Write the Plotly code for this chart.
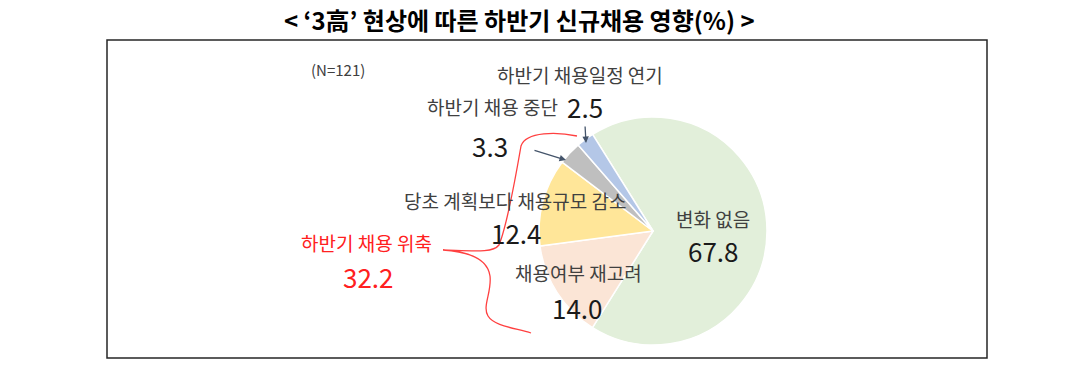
import plotly.graph_objects as go

# ---- data ----
labels = ["변화 없음", "채용여부 재고려", "당초 계획보다 채용규모 감소", "하반기 채용 중단", "하반기 채용일정 연기"]
values = [67.8, 14.0, 12.4, 3.3, 2.5]
colors = ["#E2EFDA", "#FBE5D6", "#FFE699", "#BFBFBF", "#B4C7E7"]
group_label = "하반기 채용 위축"
group_value = 32.2
title_text = "< ‘3高’ 현상에 따른 하반기 신규채용 영향(%) >"
n_text = "(N=121)"

# ---- layout helpers (screen pixel -> paper; page body has an 8px margin) ----
OFF = 8
W, H = 1080 - 2 * OFF, 372 - 2 * OFF

def px(x):
    return (x - OFF) / W

def py(y):
    return 1 - (y - OFF) / H

cx, cy, r = 653, 231, 114

fig = go.Figure()
fig.add_trace(go.Pie(
    labels=labels, values=values, sort=False, direction="clockwise", rotation=-32,
    marker=dict(colors=colors, line=dict(color="white", width=1.5)),
    textinfo="none", hoverinfo="label+value", showlegend=False,
    domain=dict(x=[px(cx - r), px(cx + r)], y=[py(cy + r), py(cy - r)]),
))

FONT = "Noto Sans CJK KR"
GRAY = "#404040"
name_pos = [(713, 218), (578, 272), (515, 200), (492, 107), (580, 74)]
val_pos = [(713, 250), (577, 307), (516, 232), (490, 145), (585, 106)]

def text_ann(x, y, text, size, color):
    return dict(x=px(x), y=py(y), text=text, showarrow=False, xref="paper", yref="paper",
                xanchor="center", yanchor="middle", font=dict(family=FONT, size=size, color=color))

ann = []
for i, lab in enumerate(labels):
    ann.append(text_ann(*name_pos[i], lab, 19, GRAY))
    ann.append(text_ann(*val_pos[i], f"{values[i]:.1f}", 26, "#1a1a1a"))

ann.append(text_ann(366, 242, group_label, 19, "#FF2020"))
ann.append(text_ann(368, 276, f"{group_value:.1f}", 26, "#FF2020"))
ann.append(text_ann(338, 70, n_text, 15, GRAY))
ann.append(text_ann(519, 20, f"<b>{title_text}</b>", 24, "black"))

# arrows to small slices
for (tx, ty, hx, hy) in [(585, 125, 586, 143), (533, 150, 566, 160)]:
    ann.append(dict(x=px(hx), y=py(hy), ax=tx - hx, ay=ty - hy, xref="paper", yref="paper",
                    text="", showarrow=True, arrowhead=2, arrowsize=1, arrowwidth=1.3,
                    arrowcolor="#44546A"))

# red curly bracket path
pts = [
    ("M", [(577, 136)]),
    ("C", [(558, 132), (526, 131), (521, 146)]),
    ("C", [(516, 175), (506, 228), (499, 245)]),
    ("C", [(493, 253), (475, 251), (443, 250)]),
    ("C", [(475, 252), (488, 262), (490, 276)]),
    ("C", [(492, 292), (482, 306), (488, 316)]),
    ("C", [(494, 326), (515, 328), (531, 333)]),
]
path = " ".join(cmd + " " + " ".join(f"{px(x):.5f},{py(y):.5f}" for x, y in p) for cmd, p in pts)

shapes = [
    dict(type="rect", xref="paper", yref="paper", x0=px(107), x1=px(987), y0=py(358), y1=py(40),
         line=dict(color="#262626", width=1.5)),
    dict(type="path", xref="paper", yref="paper", path=path, line=dict(color="#FF4040", width=1.3)),
]

fig.update_layout(width=W, height=H, margin=dict(l=0, r=0, t=0, b=0),
                  paper_bgcolor="white", plot_bgcolor="white",
                  annotations=ann, shapes=shapes, font=dict(family=FONT))
fig.write_html("out.html")
